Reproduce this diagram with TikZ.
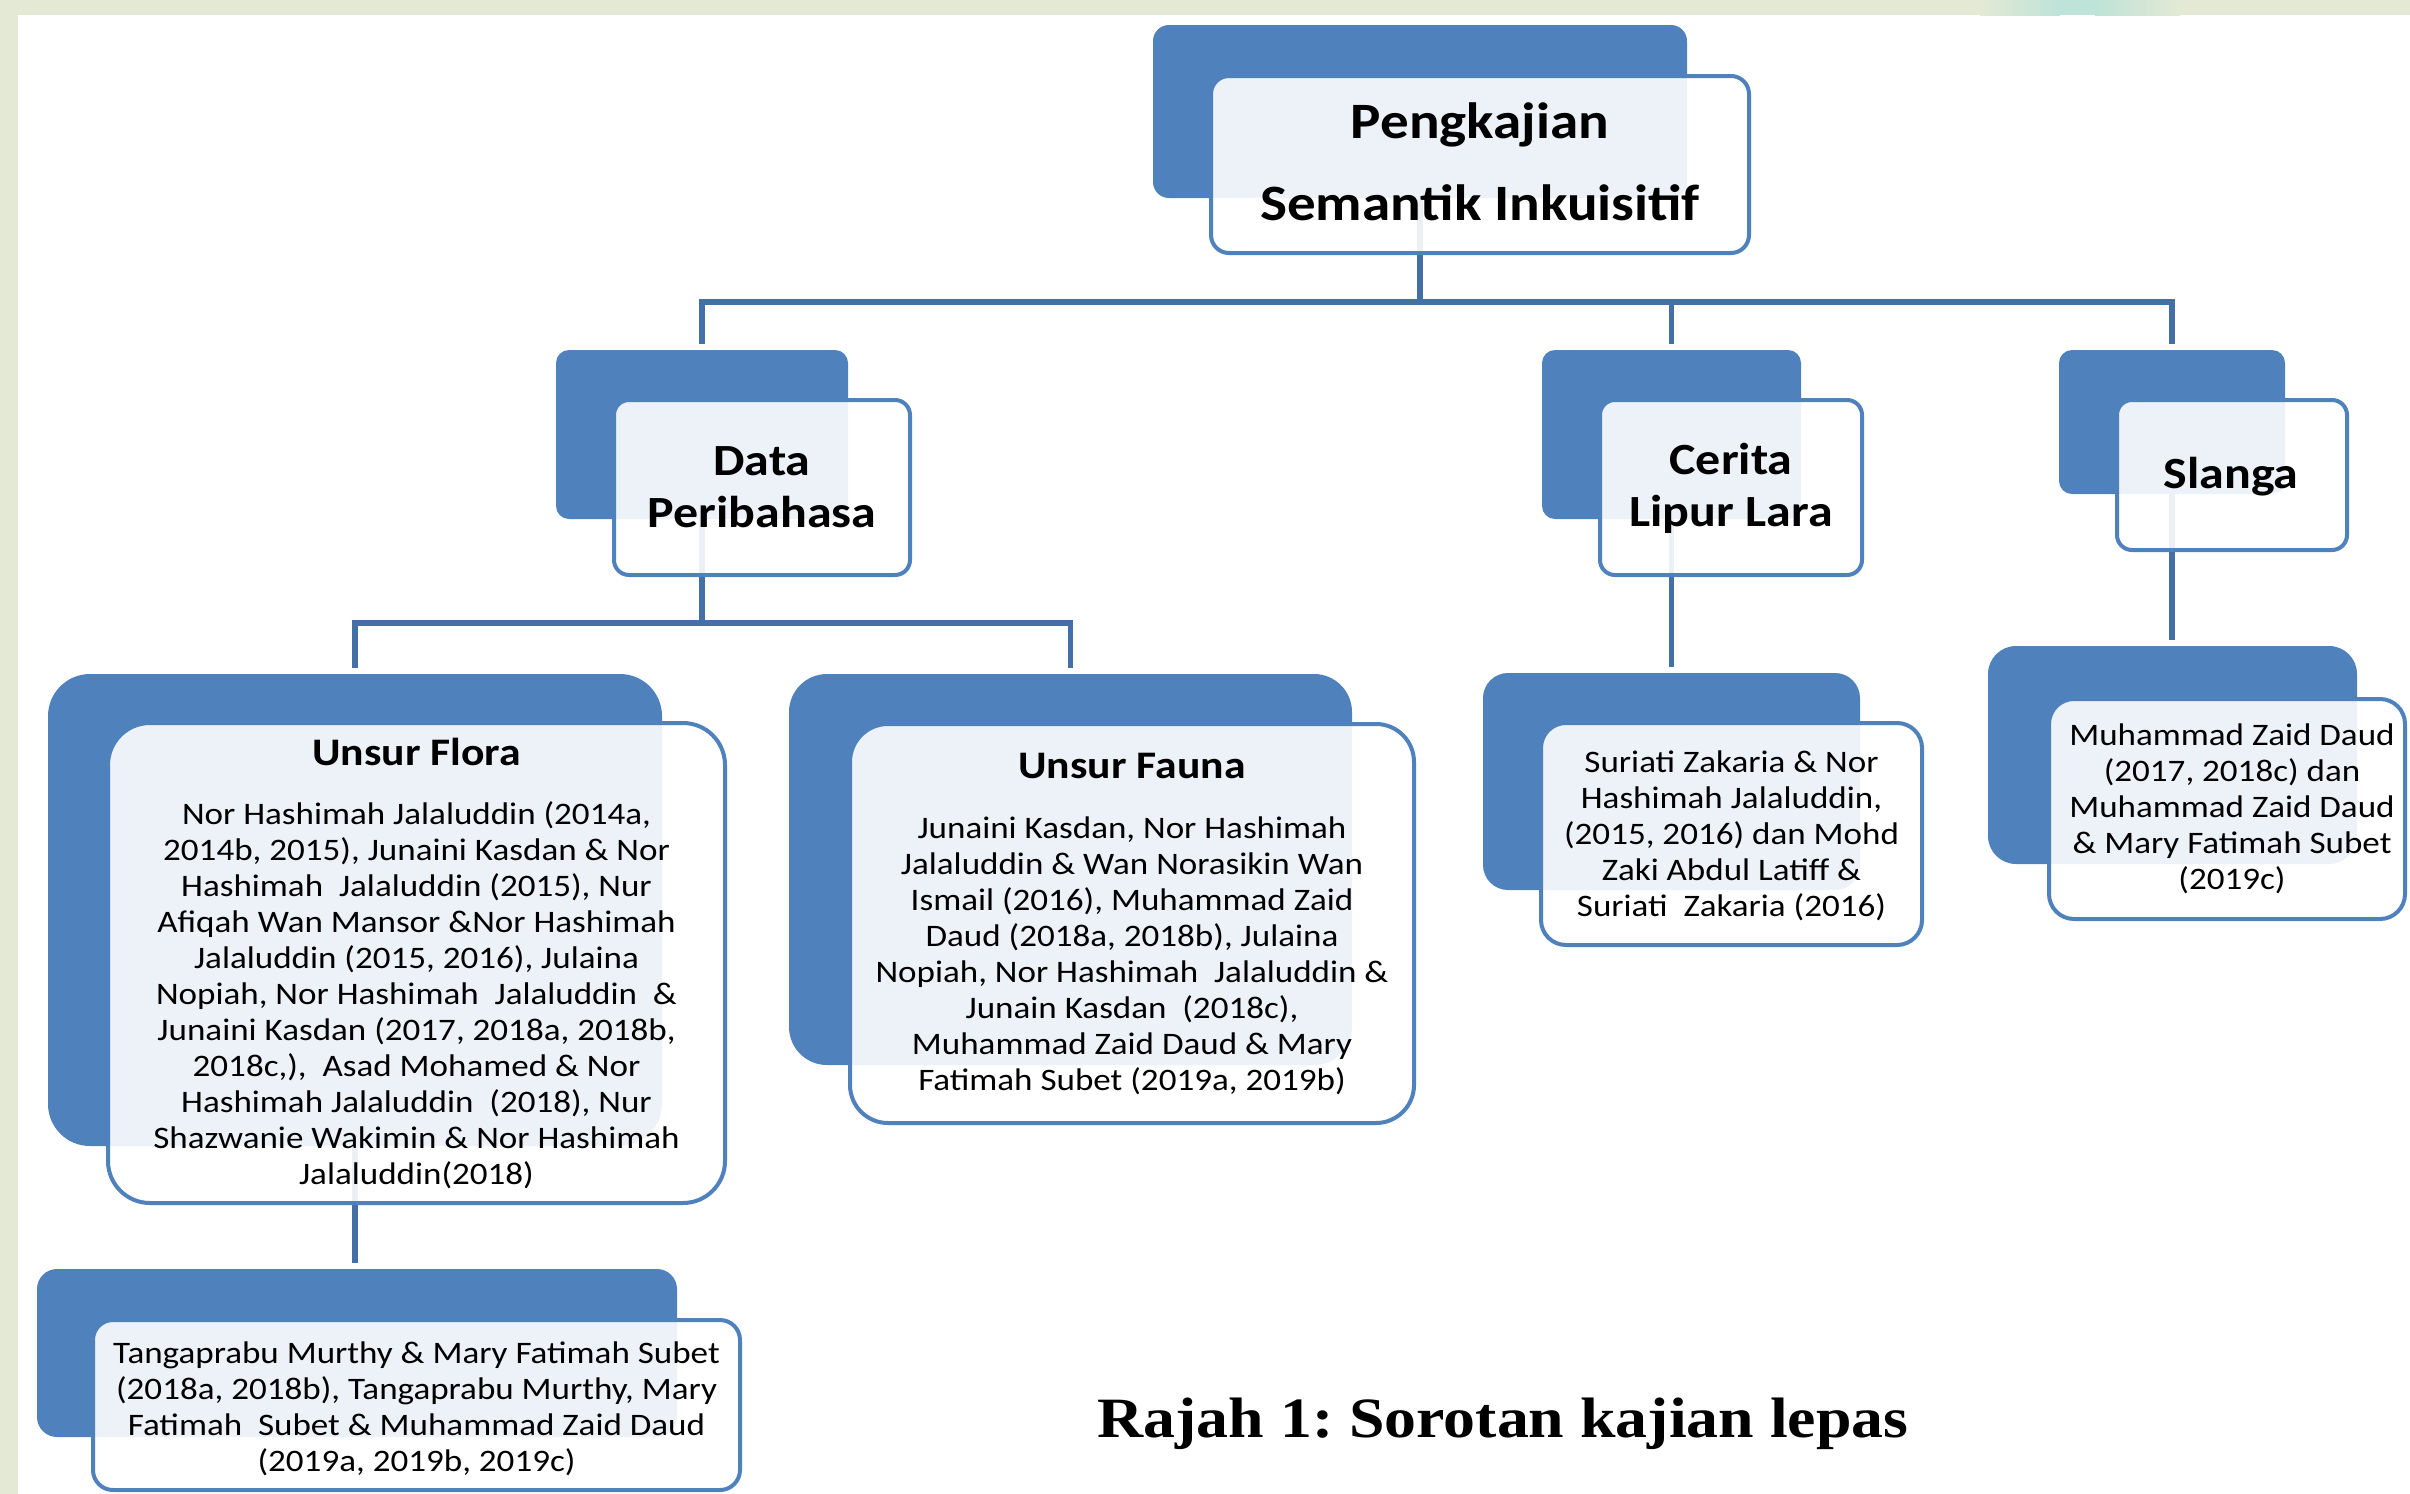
\documentclass[tikz,border=0pt]{standalone}
\usepackage{fontspec}
\usetikzlibrary{calc}
\newfontfamily\calfont[FakeStretch=1.12]{Carlito}
\newfontfamily\capfont[FakeStretch=1.12]{Liberation Serif}
\definecolor{boxblue}{RGB}{79,129,189}
\definecolor{linkblue}{RGB}{68,112,168}
\definecolor{bandgreen}{RGB}{227,233,213}
\definecolor{bandteal}{RGB}{190,227,216}
\pgfdeclarelayer{pagebg}
\pgfdeclarelayer{links}
\pgfsetlayers{pagebg,links,main}
\newcommand\hdfont[2]{\calfont\bfseries\fontsize{#1}{#2}\selectfont}
\newcommand\bdfont{\calfont\fontsize{31.3}{36}\selectfont}
\frenchspacing
\begin{document}
\begin{tikzpicture}[x=1pt,y=-1pt,
  backbox/.style={fill=boxblue, draw=none, inner sep=0pt, outer sep=0pt, rounded corners=#1},
  frontbox/.style={fill=white, fill opacity=0.9, draw=boxblue, line width=4pt, inner sep=0pt, outer sep=0pt, rounded corners=#1},
  conn/.style={draw=linkblue, line width=5.5pt},
  head/.style={align=center, anchor=base, inner sep=0pt, text=black},
  body/.style={align=center, anchor=base, inner sep=0pt, text=black, font=\bdfont},
]
\useasboundingbox (0,0) rectangle (2410,1494);

% page background
\begin{pgfonlayer}{pagebg}
  \fill[white] (0,0) rectangle (2410,1494);
  \fill[bandgreen] (0,0) rectangle (2410,15);
  \fill[bandgreen] (0,0) rectangle (18,1494);
  \shade[left color=bandgreen, right color=bandteal] (1980,0) rectangle (2060,15);
  \fill[bandteal] (2060,0) rectangle (2095,15);
  \shade[left color=bandteal, right color=bandgreen] (2095,0) rectangle (2180,15);
\end{pgfonlayer}

% back boxes
\node[backbox=16pt, minimum width=534pt, minimum height=173pt] (topB) at (1420,111.5) {};
\node[backbox=13pt, minimum width=292pt, minimum height=169pt] (dataB) at (702,434.5) {};
\node[backbox=13pt, minimum width=259pt, minimum height=169pt] (ceB) at (1671.5,434.5) {};
\node[backbox=13pt, minimum width=226pt, minimum height=144pt] (slB) at (2172,422) {};
\node[backbox=42pt, minimum width=614pt, minimum height=472pt] (flB) at (355,910) {};
\node[backbox=38pt, minimum width=563pt, minimum height=391pt] (faB) at (1070.5,869.5) {};
\node[backbox=25pt, minimum width=377pt, minimum height=217pt] (suB) at (1671.5,781.5) {};
\node[backbox=28pt, minimum width=369pt, minimum height=218pt] (scB) at (2172.5,755) {};
\node[backbox=20pt, minimum width=640pt, minimum height=168pt] (tgB) at (357,1353) {};

% front boxes
\node[frontbox=18pt, minimum width=538pt, minimum height=177pt] (topF) at (1480,164.5) {};
\node[frontbox=15pt, minimum width=296pt, minimum height=175pt] (dataF) at (762,487.5) {};
\node[frontbox=15pt, minimum width=262pt, minimum height=175pt] (ceF) at (1731,487.5) {};
\node[frontbox=15pt, minimum width=230pt, minimum height=150pt] (slF) at (2232,475) {};
\node[frontbox=42pt, minimum width=617pt, minimum height=480pt] (flF) at (416.5,963) {};
\node[frontbox=38pt, minimum width=564pt, minimum height=399pt] (faF) at (1132,923.5) {};
\node[frontbox=25pt, minimum width=381pt, minimum height=222pt] (suF) at (1731.5,834) {};
\node[frontbox=25pt, minimum width=356pt, minimum height=220pt] (scF) at (2227,809) {};
\node[frontbox=20pt, minimum width=647pt, minimum height=170pt] (tgF) at (416.5,1405) {};

% connectors
\coordinate (bus1) at (0,302);
\coordinate (bus2) at (0,623);
\begin{pgfonlayer}{links}
  \draw[conn] (topB.center) -- (topB.center |- bus1);
  \draw[conn, shorten <=6pt, shorten >=6pt] (dataB.north) -- (dataB.center |- bus1) -- (slB.center |- bus1) -- (slB.north);
  \draw[conn, shorten >=6pt] (ceB.center |- bus1) -- (ceB.north);
  \draw[conn] (dataB.center) -- (dataB.center |- bus2);
  \draw[conn, shorten <=6pt, shorten >=6pt] (flB.north) -- (flB.center |- bus2) -- (faB.center |- bus2) -- (faB.north);
  \draw[conn, shorten >=6pt] (ceB.center) -- (ceB.center |- suB.north);
  \draw[conn, shorten >=6pt] (slB.center) -- (slB.center |- scB.north);
  \draw[conn, shorten >=6pt] (flB.center) -- (flB.center |- tgB.north);
\end{pgfonlayer}

% texts (anchor base = baseline of the last line)
\node[head, font=\hdfont{51}{82}] (topT) at (1480,220) {Pengkajian\\Semantik Inkuisitif};
\node[head, font=\hdfont{44.6}{52}] (dataT) at (762,527) {Data\\Peribahasa};
\node[head, font=\hdfont{44.6}{52}] (ceT) at (1731,526) {Cerita\\Lipur Lara};
\node[head, font=\hdfont{44.6}{52}] (slT) at (2231,488) {Slanga};
\node[head, font=\hdfont{39}{46}] (flT) at (416.5,765) {Unsur Flora};
\node[head, font=\hdfont{39}{46}] (faT) at (1132,778) {Unsur Fauna};

\node[body] (flX) at (416.5,1184) {Nor Hashimah Jalaluddin (2014a,\\
2014b, 2015), Junaini Kasdan \& Nor\\
Hashimah\ \ Jalaluddin (2015), Nur\\
Afiqah Wan Mansor \&Nor Hashimah\\
Jalaluddin (2015, 2016), Julaina\\
Nopiah, Nor Hashimah\ \ Jalaluddin\ \ \&\\
Junaini Kasdan (2017, 2018a, 2018b,\\
2018c,),\ \ Asad Mohamed \& Nor\\
Hashimah Jalaluddin\ \ (2018), Nur\\
Shazwanie Wakimin \& Nor Hashimah\\
Jalaluddin(2018)};

\node[body] (faX) at (1132,1090) {Junaini Kasdan, Nor Hashimah\\
Jalaluddin \& Wan Norasikin Wan\\
Ismail (2016), Muhammad Zaid\\
Daud (2018a, 2018b), Julaina\\
Nopiah, Nor Hashimah\ \ Jalaluddin \&\\
Junain Kasdan\ \ (2018c),\\
Muhammad Zaid Daud \& Mary\\
Fatimah Subet (2019a, 2019b)};

\node[body] (suX) at (1731.5,916) {Suriati Zakaria \& Nor\\
Hashimah Jalaluddin,\\
(2015, 2016) dan Mohd\\
Zaki Abdul Latiff \&\\
Suriati\ \ Zakaria (2016)};

\node[body] (scX) at (2232,889) {Muhammad Zaid Daud\\
(2017, 2018c) dan\\
Muhammad Zaid Daud\\
\& Mary Fatimah Subet\\
(2019c)};

\node[body] (tgX) at (416.5,1471) {Tangaprabu Murthy \& Mary Fatimah Subet\\
(2018a, 2018b), Tangaprabu Murthy, Mary\\
Fatimah\ \ Subet \& Muhammad Zaid Daud\\
(2019a, 2019b, 2019c)};

\node[anchor=base, inner sep=0pt, font=\capfont\bfseries\fontsize{57}{68}\selectfont\frenchspacing] (cap) at (1503,1437) {Rajah 1: Sorotan kajian lepas};
\end{tikzpicture}
\end{document}
